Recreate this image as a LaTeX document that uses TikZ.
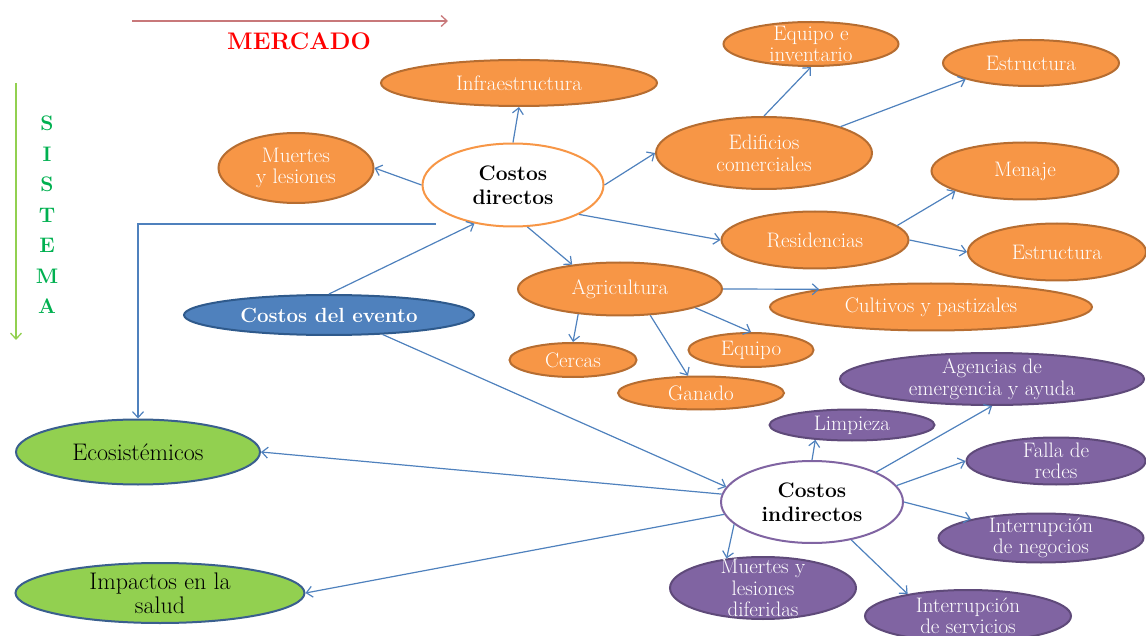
\documentclass[tikz,border=0pt]{standalone}
\usepackage{xcolor}
\usepackage{tikz}
\usetikzlibrary{shapes.geometric, arrows.meta, positioning, calc}

\definecolor{orangefill}{HTML}{F79646}
\definecolor{orangeline}{HTML}{B66D31}
\definecolor{purplefill}{HTML}{8064A2}
\definecolor{purpleline}{HTML}{5F4A7A}
\definecolor{bluefill}{HTML}{4F81BD}
\definecolor{blueline}{HTML}{2F5A8C}
\definecolor{greenfill}{HTML}{92D050}
\definecolor{greenline}{HTML}{3A5F8E}
\definecolor{linkblue}{HTML}{4F81BD}
\definecolor{marketline}{HTML}{C8787A}
\definecolor{systemtext}{HTML}{00B050}

\begin{document}
\begin{tikzpicture}[
    x=1pt, y=-1pt,
    basebox/.style={ellipse, line width=2pt, inner xsep=0pt, inner ysep=-6pt, align=center, font=\fontsize{21}{21.5}\selectfont},
    orangebox/.style={basebox, draw=orangeline, fill=orangefill, text=white},
    purplebox/.style={basebox, draw=purpleline, fill=purplefill, text=white},
    greenbox/.style={basebox, draw=greenline, fill=greenfill, text=black, font=\fontsize{24}{24}\selectfont},
    hubbox/.style={basebox, fill=white, text=black, font=\fontsize{21}{24}\selectfont\bfseries},
    arrow/.style={draw=linkblue, line width=1.2pt, -{Straight Barb[length=6pt, width=11pt]}}
]
    \useasboundingbox (0,0) rectangle (1146,636);

    % Axes: mercado / sistema
    \coordinate (mkStart) at (132,21);
    \coordinate (mkEnd) at (448,21);
    \draw [draw=marketline, line width=1.3pt, -{Straight Barb[length=6pt, width=11pt]}] (mkStart) -- (mkEnd);
    \node (mercado) at (299,41) [text=red, font=\fontsize{24}{26}\selectfont\bfseries] {MERCADO};

    \coordinate (sysStart) at (16,83);
    \coordinate (sysEnd) at (16,340);
    \draw [draw=greenfill, line width=1.3pt, -{Straight Barb[length=6pt, width=11pt]}] (sysStart) -- (sysEnd);
    \node (sistema) at (47,215) [text=systemtext, align=center, font=\fontsize{21}{30.5}\selectfont\bfseries] {S\\I\\S\\T\\E\\M\\A};

    % Costos directos
    \node (directos) at (513,185) [hubbox, draw=orangefill, minimum width=181pt, minimum height=83pt] {Costos\\directos};
    \node (infra) at (519,83) [orangebox, minimum width=276pt, minimum height=46pt] {Infraestructura};
    \node (muertes) at (296,168) [orangebox, minimum width=155pt, minimum height=70pt] {Muertes\\y lesiones};
    \node (edificios) at (764,153) [orangebox, minimum width=216pt, minimum height=72pt] {Edificios\\comerciales};
    \node (invent) at (811,44) [orangebox, minimum width=175pt, minimum height=44pt] {Equipo e\\inventario};
    \node (estrucA) at (1031,63) [orangebox, minimum width=176pt, minimum height=46pt] {Estructura};
    \node (residen) at (815,240) [orangebox, minimum width=187pt, minimum height=57pt] {Residencias};
    \node (menaje) at (1025,171) [orangebox, minimum width=187pt, minimum height=57pt] {Menaje};
    \node (estrucB) at (1057,252) [orangebox, minimum width=178pt, minimum height=57pt] {Estructura};
    \node (agricul) at (620,289) [orangebox, minimum width=204pt, minimum height=53pt] {Agricultura};
    \node (cultivos) at (931,307) [orangebox, minimum width=322pt, minimum height=47pt] {Cultivos y pastizales};
    \node (cercas) at (573,360) [orangebox, minimum width=127pt, minimum height=34pt] {Cercas};
    \node (equipo) at (751,350) [orangebox, minimum width=125pt, minimum height=34pt] {Equipo};
    \node (ganado) at (701,393) [orangebox, minimum width=166pt, minimum height=33pt] {Ganado};

    % Costos del evento
    \node (evento) at (329,315) [basebox, draw=blueline, fill=bluefill, text=white, font=\fontsize{20.5}{22}\selectfont\bfseries, minimum width=290pt, minimum height=40pt] {Costos del evento};

    % Costos indirectos
    \node (indirectos) at (812,502) [hubbox, draw=purplefill, minimum width=182pt, minimum height=82pt] {Costos\\indirectos};
    \node (agencias) at (992,379) [purplebox, minimum width=304pt, minimum height=52pt] {Agencias de\\emergencia y ayuda};
    \node (limpieza) at (852,425) [purplebox, minimum width=165pt, minimum height=31pt] {Limpieza};
    \node (falla) at (1056,461) [purplebox, minimum width=179pt, minimum height=47pt] {Falla de\\redes};
    \node (negocios) at (1041,538) [purplebox, minimum width=205pt, minimum height=49pt] {Interrupción\\de negocios};
    \node (diferidas) at (763,588) [purplebox, inner ysep=-13pt, minimum width=186pt, minimum height=62pt] {Muertes y\\lesiones\\diferidas};
    \node (servicios) at (968,616) [purplebox, minimum width=206pt, minimum height=52pt] {Interrupción\\de servicios};

    % Impactos no de mercado
    \node (eco) at (138,452) [greenbox, minimum width=244pt, minimum height=65pt] {Ecosistémicos};
    \node (salud) at (160,593) [greenbox, minimum width=289pt, minimum height=60pt] {Impactos en la\\salud};

    % Connecting Arrows
    \draw [arrow] (directos.north) -- (infra.south);
    \draw [arrow] (directos.west) -- (muertes.east);
    \draw [arrow] (directos.east) -- (edificios.west);
    \draw [arrow] (directos.-24) -- (residen.west);
    \draw [arrow] (directos.-71) -- (agricul.153);
    \draw [arrow] (edificios.north) -- (invent.south);
    \draw [arrow] (edificios.19) -- (estrucA.194);
    \draw [arrow] (residen.10) -- (menaje.196);
    \draw [arrow] (residen.east) -- (estrucB.west);
    \draw [arrow] (agricul.east) -- (cultivos.171);
    \draw [arrow] (agricul.211) -- (cercas.north);
    \draw [arrow] (agricul.-14) -- (equipo.north);
    \draw [arrow] (agricul.-41) -- (ganado.127);
    \draw [arrow] (evento.north) -- (directos.225);
    \coordinate (ecoStart) at (436,224);
    \draw [arrow] (ecoStart) -| (eco.north);
    \draw [arrow] (evento.-20) -- (indirectos.170);
    \draw [arrow] (indirectos.175) -- (eco.east);
    \draw [arrow] (indirectos.188) -- (salud.east);
    \draw [arrow] (indirectos.north) -- (limpieza.202);
    \draw [arrow] (indirectos.25) -- (agencias.south);
    \draw [arrow] (indirectos.11) -- (falla.west);
    \draw [arrow] (indirectos.east) -- (negocios.165);
    \draw [arrow] (indirectos.196) -- (diferidas.141);
    \draw [arrow] (indirectos.-44) -- (servicios.160);

\end{tikzpicture}
\end{document}
